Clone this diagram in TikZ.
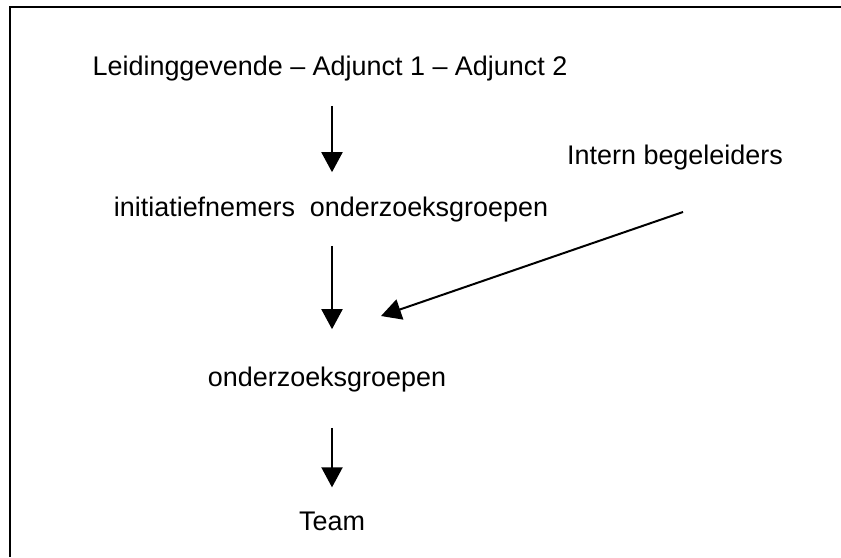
\documentclass[tikz,border=0pt]{standalone}
\usepackage{fontspec}
\setmainfont{Liberation Sans}
\usetikzlibrary{arrows.meta}

\begin{document}
\begin{tikzpicture}[x=0.75pt,y=0.75pt,yscale=-1,xscale=1,
  txt/.style={inner sep=0pt,font=\fontsize{20.2}{24}\selectfont},
  arr/.style={line width=1.5pt,-{Triangle[length=15pt,width=15.75pt]}}]
\useasboundingbox (0,0) rectangle (841,557);

%Frame (only left and top edge inside the page)
\draw [line width=1.5pt] (10,557) -- (10,7) -- (841,7) ;

% Text Node
\node [txt] (lead) at (330,69) {Leidinggevende -- Adjunct 1 -- Adjunct 2};
% Text Node
\node [txt] (init) at (331,210) {initiatiefnemers\ \ onderzoeksgroepen};
% Text Node
\node [txt] (ib) at (675,158) {Intern begeleiders};
% Text Node
\node [txt] (onder) at (327,380) {onderzoeksgroepen};
% Text Node
\node [txt] (team) at (332,521) {Team};

\coordinate (ibfoot) at (683,212);
\coordinate (meet) at (381,316);

%Straight Lines
\draw [arr,shorten <=24pt*0.75,shorten >=25pt*0.75] (lead.south -| team) -- (init.north -| team);
\draw [arr,shorten <=23pt*0.75,shorten >=38pt*0.75] (init.south -| team) -- (onder.north -| team);
\draw [arr,shorten <=35pt*0.75,shorten >=24pt*0.75] (onder.south -| team) -- (team.north);
\draw [arr] (ibfoot) -- (meet);

\end{tikzpicture}
\end{document}
